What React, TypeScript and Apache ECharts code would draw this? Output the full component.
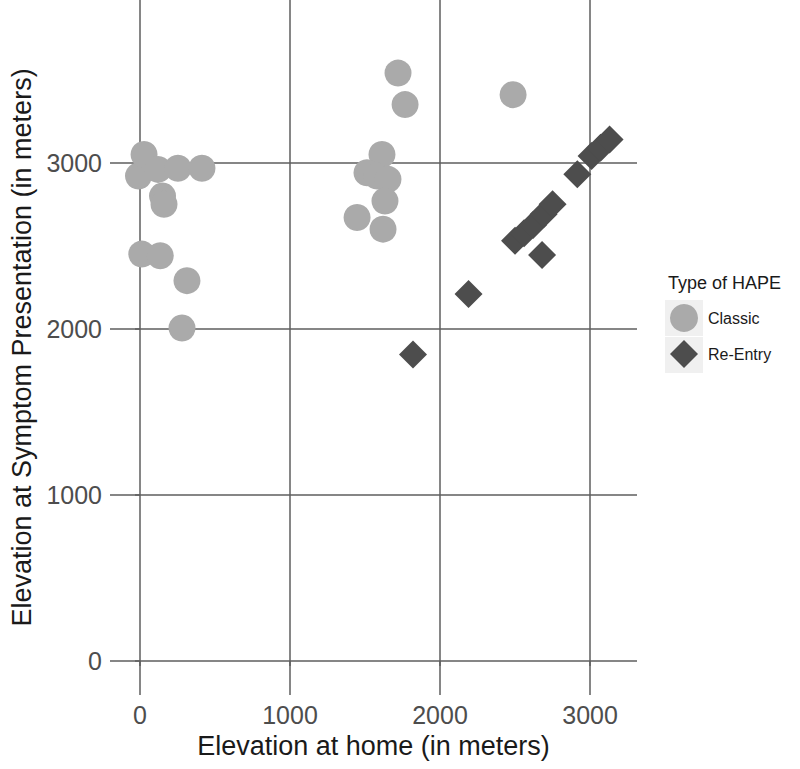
import React, { useEffect, useRef } from "react";
import * as echarts from "echarts";

const xTicks = [0, 1000, 2000, 3000];
const yTicks = [0, 1000, 2000, 3000];

const seriesNames = ["Classic", "Re-Entry"];

const classic: number[][] = [
  [-10, 2920], [27, 3050], [120, 2960], [253, 2967], [413, 2967],
  [150, 2800], [160, 2750], [12, 2450], [135, 2440], [313, 2290], [280, 2005],
  [1613, 3050], [1513, 2940], [1580, 2920], [1653, 2900], [1633, 2770],
  [1447, 2670], [1620, 2600], [1720, 3540], [1767, 3350], [2487, 3410],
];

const reEntry: number[][] = [
  [1820, 1845], [2190, 2210], [2680, 2445], [2500, 2530], [2560, 2575],
  [2620, 2625], [2690, 2690], [2750, 2750], [2915, 2930], [3010, 3040],
  [3070, 3090], [3130, 3140],
];

const FONT = "'Liberation Sans', Arial, sans-serif";
const GRID = "#5e5e5e";

export default function App() {
  const ref = useRef<HTMLDivElement>(null);
  useEffect(() => {
    const chart = echarts.init(ref.current!, null, { renderer: "svg" });
    chart.setOption({
      animation: false,
      backgroundColor: "#ffffff",
      textStyle: { fontFamily: FONT },
      grid: { left: 110, right: 163, top: 0, bottom: 74, containLabel: false, outerBoundsMode: "none" },
      xAxis: {
        type: "value",
        min: -200,
        max: 3313,
        axisLine: { show: false },
        axisTick: { show: true, customValues: xTicks, length: 5, lineStyle: { color: GRID, width: 1.5 } },
        axisLabel: {
          customValues: xTicks,
          fontSize: 25,
          color: "#4d4d4d",
          margin: 7,
          fontFamily: FONT,
          formatter: (v: number) => String(v),
        },
        splitLine: { show: true, lineStyle: { color: GRID, width: 1.5 } },
        name: "Elevation at home (in meters)",
        nameLocation: "middle",
        nameGap: 37,
        nameTextStyle: { fontSize: 27, color: "#1a1a1a", fontFamily: FONT },
      },
      yAxis: {
        type: "value",
        min: -205,
        max: 3980,
        axisLine: { show: false },
        axisTick: { show: true, customValues: yTicks, length: 5, lineStyle: { color: GRID, width: 1.5 } },
        axisLabel: {
          customValues: yTicks,
          fontSize: 25,
          color: "#4d4d4d",
          margin: 8,
          fontFamily: FONT,
          formatter: (v: number) => String(v),
        },
        splitLine: { show: true, lineStyle: { color: GRID, width: 1.5 } },
        name: "Elevation at Symptom Presentation (in meters)",
        nameLocation: "middle",
        nameGap: 64,
        nameTextStyle: { fontSize: 27, color: "#1a1a1a", fontFamily: FONT },
      },
      legend: {
        data: seriesNames,
        orient: "vertical",
        left: 670,
        top: 304,
        padding: 0,
        itemWidth: 28,
        itemHeight: 28,
        itemGap: 8,
        textStyle: { fontSize: 16, color: "#1a1a1a", fontFamily: FONT, padding: [0, 0, 0, 5] },
      },
      graphic: [
        { type: "rect", shape: { x: 665, y: 300, width: 38, height: 36 }, style: { fill: "#f0f0f0" }, z: -1 },
        { type: "rect", shape: { x: 665, y: 337, width: 38, height: 36 }, style: { fill: "#f0f0f0" }, z: -1 },
        {
          type: "text",
          x: 668,
          y: 283,
          style: { text: "Type of HAPE", fontSize: 18, fill: "#1a1a1a", font: `18px ${FONT}`, verticalAlign: "middle" },
        },
      ],
      series: [
        {
          name: seriesNames[0],
          type: "scatter",
          symbol: "circle",
          symbolSize: 27,
          itemStyle: { color: "#aaaaaa", opacity: 1 },
          data: classic,
        },
        {
          name: seriesNames[1],
          type: "scatter",
          symbol: "diamond",
          symbolSize: 28,
          itemStyle: { color: "#4d4d4d", opacity: 1 },
          data: reEntry,
        },
      ],
    });
    return () => chart.dispose();
  }, []);
  return (
    <div
      ref={ref}
      style={{ position: "fixed", left: 0, top: 0, width: 800, height: 769, background: "#fff" }}
    />
  );
}
